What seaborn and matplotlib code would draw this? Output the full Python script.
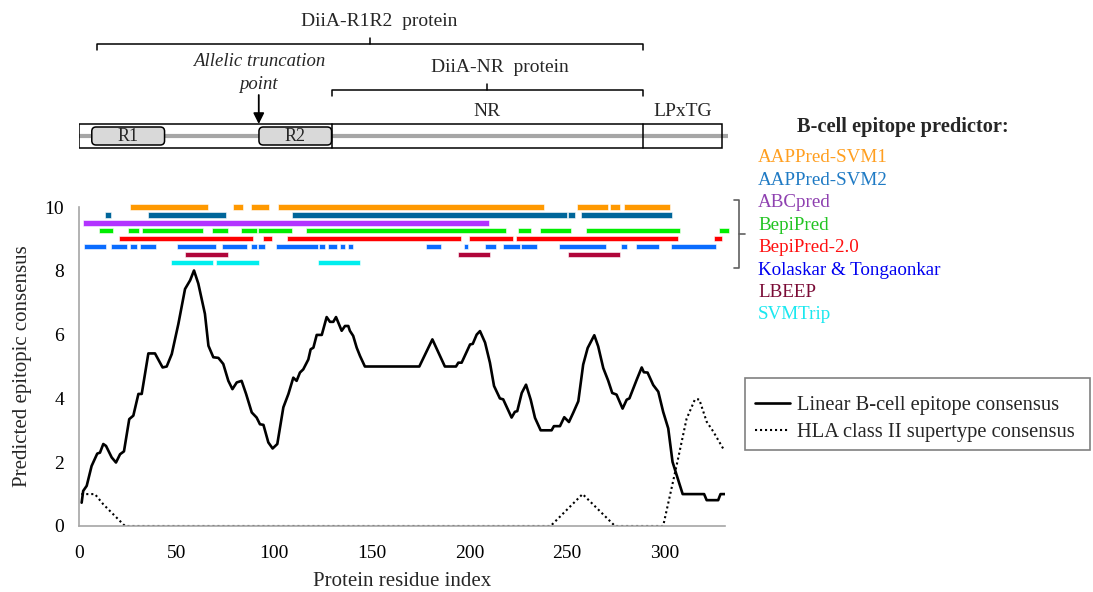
import matplotlib
matplotlib.use("Agg")
import matplotlib.pyplot as plt
from matplotlib.patches import FancyBboxPatch, Rectangle
from matplotlib.lines import Line2D
import numpy as np
import pandas as pd
import seaborn as sns

# ---------------------------------------------------------------------- #
# Data
# ---------------------------------------------------------------------- #
consensus_x = [1.2, 2, 3.8, 6.3, 9.2, 10.6, 12.3, 13.7, 16.6, 18.8, 20.9, 22.9,
               25.6, 27.7, 30.3, 32, 35.4, 38.8, 42.7, 44.8, 47.4, 50.8, 54.2,
               56.8, 58.8, 61, 64.4, 66.2, 68.7, 71.3, 73.8, 76.4, 78.5, 80.7,
               83.2, 85.5, 88.4, 90.9, 92.6, 94.4, 96.9, 99.1, 101.5, 104.6,
               107.2, 109.7, 111.4, 113.1, 114.8, 117.4, 118.6, 120, 121.7,
               124.3, 126.8, 128.5, 130.2, 131.6, 134.5, 136.2, 137.9, 138.7,
               140.4, 142.2, 143.9, 146.4, 174.3, 181, 187.4, 193.1, 194.3,
               196, 200.3, 201.7, 203.7, 205.4, 208, 210.5, 212.6, 215.6, 217.3,
               221.6, 223.3, 224.5, 226.8, 229, 231.4, 233.6, 236.5, 242.1,
               243.3, 246.4, 248.6, 251, 253.2, 255.8, 258.3, 260.6, 264, 266,
               268.6, 271.1, 273.2, 275.4, 278.5, 280.6, 282, 285.7, 288.3,
               289.4, 291.3, 294.2, 296.8, 299.3, 301.9, 304.1, 306.2, 309.3,
               320.3, 321.6, 327.5, 328.7, 331]
consensus_y = [0.73, 1.1, 1.26, 1.88, 2.27, 2.3, 2.57, 2.51, 2.15, 1.99, 2.25, 2.34,
               3.35, 3.46, 4.14, 4.14, 5.41, 5.41, 4.97, 5.0, 5.39, 6.34, 7.43,
               7.7, 8.01, 7.6, 6.65, 5.65, 5.29, 5.27, 5.08, 4.55, 4.29, 4.5,
               4.55, 4.14, 3.56, 3.4, 3.19, 3.17, 2.62, 2.43, 2.57, 3.72,
               4.14, 4.65, 4.55, 4.81, 4.91, 5.22, 5.54, 5.59, 5.99,
               5.99, 6.55, 6.4, 6.4, 6.55, 6.12, 6.27, 6.27, 6.12,
               5.96, 5.59, 5.33, 5.0, 5.0, 5.85, 5.0, 5.0, 5.12,
               5.12, 5.69, 5.71, 6.0, 6.11, 5.75, 5.12, 4.39, 4.0, 3.97,
               3.4, 3.58, 3.6, 4.17, 4.43, 3.96, 3.39, 3.0, 3.0,
               3.13, 3.13, 3.41, 3.26, 3.55, 3.91, 5.06, 5.58, 5.98, 5.63,
               4.95, 4.56, 4.17, 4.12, 3.68, 3.96, 4.0, 4.58, 4.97,
               4.82, 4.81, 4.42, 4.21, 3.58, 3.06, 2.01, 1.6, 1.0,
               1.0, 0.81, 0.81, 1.0, 1.0]

hla_x = [1, 8, 12.3, 23.4, 241.6, 258, 274.6, 299.3, 306.2, 311.3, 315.6,
         317.8, 321.6, 325, 330.5]
hla_y = [1.0, 1.0, 0.68, 0.0, 0.0, 1.0, 0.0, 0.0, 1.9, 3.36, 3.97,
         3.97, 3.27, 2.96, 2.38]

predictors = ["AAPPred-SVM1", "AAPPred-SVM2", "ABCpred", "BepiPred",
              "BepiPred-2.0", "Kolaskar & Tongaonkar", "LBEEP", "SVMTrip"]
bar_levels = [10.0, 9.75, 9.5, 9.25, 9.0, 8.75, 8.5, 8.25]
bar_colors = ["#ff9900", "#00669a", "#b233ff", "#00ee00",
              "#ff0000", "#0a6cff", "#b0063a", "#00eeee"]
text_colors = ["#ff9f20", "#1f7ac4", "#8e40b0", "#22c422",
               "#ff1010", "#0000f0", "#7a0a35", "#1ae8f0"]

svm1 = [(26, 66), (79, 84), (88, 97), (102, 238), (255, 271), (272, 277), (279, 303)]
svm2 = [(13, 16), (35, 75), (109, 250), (250.5, 254), (257, 304)]
abcpred = [(2, 210)]
bepipred = [(10, 17.5), (25, 30.5), (32, 63.5), (68, 76), (83, 91), (91.5, 109),
            (116, 218.5), (225, 231.5), (236, 252), (260, 308), (328, 333)]
bepipred2 = [(20.5, 89), (94, 99), (106.5, 195.5), (200, 222.5), (224, 307),
             (325.5, 329.5)]
kolaskar = [(2.5, 13.5), (16, 24.5), (26, 29.5), (31, 39.5), (50, 70), (73, 86),
            (88, 91), (91.5, 95), (101, 122.5), (123, 126), (127.5, 132),
            (133.5, 136), (137.5, 140.5), (177.5, 185.5), (197, 199.5),
            (208, 213.5), (217, 225.8), (226.2, 234.5), (246, 270),
            (277.5, 281), (285.5, 297), (303.5, 326.5)]
lbeep = [(54, 76), (194, 210.5), (250.5, 277)]
svmtrip = [(47, 68.5), (70, 92), (122.5, 144)]
segments = [svm1, svm2, abcpred, bepipred, bepipred2, kolaskar, lbeep, svmtrip]

# protein architecture (residue numbers)
protein_end = 329.5
repeats = [("R1", 6.4, 43.7), ("R2", 92.1, 129.3)]
region_bounds = [129.3, 288.9]
region_names = [("NR", 129.3, 288.9), ("LPxTG", 288.9, 329.5)]
truncation_point = 92
r1r2_span = (9.0, 288.9)
nr_span = (129.3, 288.9)

# ---------------------------------------------------------------------- #
sns.set_style("white")
plt.rcParams["font.family"] = ["Liberation Serif", "DejaVu Serif"]
plt.rcParams["font.size"] = 14

W, H = 1093, 592
fig = plt.figure(figsize=(W / 100, H / 100), dpi=100)
left, right = 79.3 / W, 725 / W
ax = fig.add_axes([left, 1 - 526 / H, right - left, (526 - 207) / H])
XMAX = 331

df = pd.DataFrame({"residue": consensus_x, "score": consensus_y})
df_hla = pd.DataFrame({"residue": hla_x, "score": hla_y})
sns.lineplot(data=df, x="residue", y="score", ax=ax, color="black", lw=1.9,
             estimator=None, label="Linear B-cell epitope consensus")
sns.lineplot(data=df_hla, x="residue", y="score", ax=ax, color="black", lw=1.5,
             linestyle=(0, (1, 1.4)), estimator=None,
             label="HLA class II supertype consensus")

bar_h = 0.16
for segs, lvl, col in zip(segments, bar_levels, bar_colors):
    ax.broken_barh([(a, b - a) for a, b in segs], (lvl - bar_h / 2, bar_h),
                   facecolors=col, edgecolors="white", linewidth=0.4,
                   clip_on=False, zorder=3)

ax.set_xlim(0, XMAX)
ax.set_ylim(0, 10)
ax.set_xticks(range(0, 301, 50))
ax.set_yticks(range(0, 11, 2))
ax.set_xlabel("Protein residue index", fontsize=15, labelpad=7)
ax.set_ylabel("Predicted epitopic consensus", fontsize=15, labelpad=9)
for s in ["top", "right"]:
    ax.spines[s].set_visible(False)
for s in ["left", "bottom"]:
    ax.spines[s].set_color("#a6a6a6")
    ax.spines[s].set_linewidth(1.2)
ax.tick_params(axis="both", direction="out", length=5, width=1.2,
               color="#a6a6a6", labelcolor="black", labelsize=14)
ax.tick_params(axis="x", pad=9)
ax.tick_params(axis="y", pad=6)

# line legend: frame drawn separately so the box matches the reference
fig.add_artist(Rectangle((745 / W, 1 - 450 / H), 345 / W, 72 / H,
                         transform=fig.transFigure, fill=False,
                         edgecolor="#808080", lw=1.2))
ax.legend(loc="upper left", bbox_to_anchor=(755 / W, 1 - 396 / H),
          bbox_transform=fig.transFigure, borderaxespad=0, frameon=False,
          fontsize=14.8, handlelength=1.7, handletextpad=0.35,
          labelspacing=0.36, borderpad=0)

# predictor legend (text only, coloured)
fig.text(797 / W, 1 - 127 / H, "B-cell epitope predictor:", fontsize=14.7,
         fontweight="bold", va="center", ha="left")
for i, (name, col) in enumerate(zip(predictors, text_colors)):
    fig.text(758 / W, 1 - (158 + 22.4 * i) / H, name, color=col,
             fontsize=13.7, va="center", ha="left")

# "]" bracket next to the bars
bx, by0, by1 = 739 / W, 1 - 200 / H, 1 - 268 / H
fig.add_artist(Line2D([734 / W, bx, bx, 734 / W], [by0, by0, by1, by1],
                      color="#606060", lw=1.2))
fig.add_artist(Line2D([bx, 745 / W], [(by0 + by1) / 2] * 2,
                      color="#606060", lw=1.2))

# ---------------------------------------------------------------------- #
# Protein architecture on top (x in residues, y in image pixels)
# ---------------------------------------------------------------------- #
top = fig.add_axes([left, 1 - 160 / H, right - left, 160 / H])
top.set_xlim(0, XMAX)
top.set_ylim(160, 0)
top.axis("off")

top.plot([0, 332.5], [136, 136], color="#a6a6a6", lw=3, clip_on=False,
         solid_capstyle="butt", zorder=1)
top.add_patch(Rectangle((0, 124), protein_end, 24, fill=False,
                        edgecolor="black", lw=1.1, zorder=2))
for b in region_bounds:
    top.plot([b, b], [124, 148], color="black", lw=1.1, zorder=2)
for name, a, b in repeats:
    top.add_patch(FancyBboxPatch((a, 127), b - a, 18,
                                 boxstyle="round,pad=0,rounding_size=2.2",
                                 mutation_aspect=1.95, facecolor="#d9d9d9",
                                 edgecolor="black", lw=1.1, zorder=3))
    top.text((a + b) / 2, 136.5, name, ha="center", va="center",
             fontsize=13, zorder=4)
for name, a, b in region_names:
    top.text((a + b) / 2, 111, name, ha="center", va="center", fontsize=14)


def brace(a, b, y, label, ty, dx):
    mid = (a + b) / 2
    top.plot([a, a, b, b], [y + 6, y, y, y + 6], color="black", lw=1.1)
    top.plot([mid, mid], [y, y - 6], color="black", lw=1.1)
    top.text(mid + dx, ty, label, ha="center", va="center", fontsize=14)


brace(*r1r2_span, 44, "DiiA-R1R2  protein", 21, 5)
brace(*nr_span, 90, "DiiA-NR  protein", 68, 6.5)

top.text(truncation_point, 73, "Allelic truncation\npoint", ha="center",
         va="center", fontsize=13.5, style="italic", linespacing=1.45)
top.annotate("", xy=(truncation_point, 124), xytext=(truncation_point, 95),
             arrowprops=dict(arrowstyle="-|>", color="black", lw=1.3,
                             mutation_scale=16, shrinkA=0, shrinkB=0))

fig.savefig("out.png", dpi=100)
